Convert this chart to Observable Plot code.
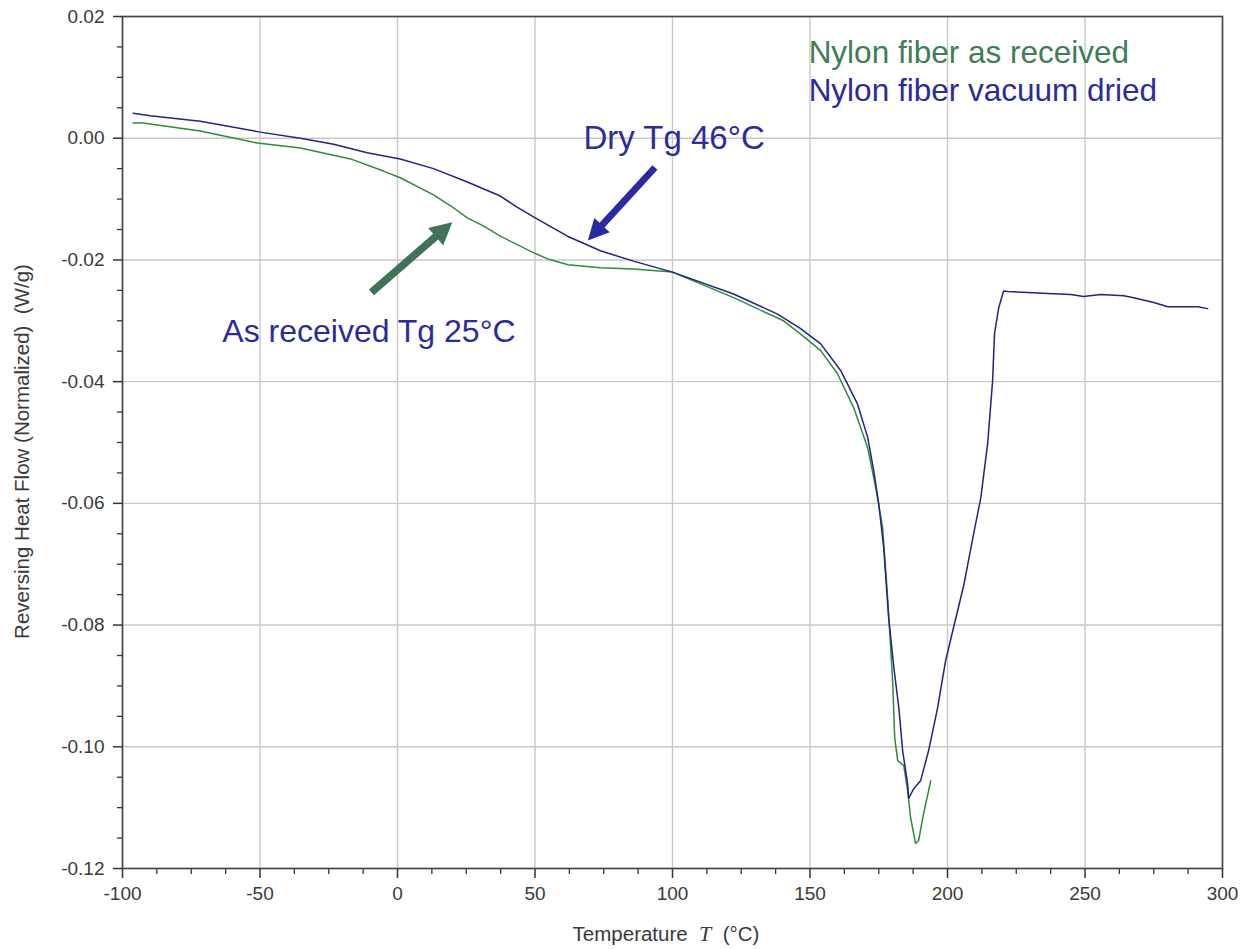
<!DOCTYPE html>
<html>
<head>
<meta charset="utf-8">
<script src="https://cdn.jsdelivr.net/npm/d3@7"></script>
<script src="https://cdn.jsdelivr.net/npm/@observablehq/plot@0.6"></script>
<style>
  body { margin: 0; background: #fff; }
  #chart { width: 1242px; height: 949px; }
</style>
</head>
<body>
<div id="chart"></div>
<script>
// Reversing heat flow (W/g) vs temperature (°C), nylon fibre, MDSC

// Nylon fiber as received
const receivedTemp = [-96.1, -92.5, -71.7, -51.0, -35.3, -17.1, -5.1, 1.0, 13.1, 19.3, 25.4, 31.2, 37.4, 49.4, 55.0, 62.0, 73.8, 85.8, 100.0, 122.2, 140.4, 146.6, 153.9, 160.0, 165.9, 171.0, 173.9, 176.4, 177.5, 178.3, 179.4, 180.1, 180.8, 181.9, 184.1, 185.5, 186.6, 188.4, 189.5, 191.3, 193.9];
const receivedFlow = [0.0025, 0.0025, 0.0012, -0.0008, -0.0016, -0.0034, -0.0054, -0.0065, -0.0093, -0.0111, -0.0131, -0.0144, -0.0161, -0.0188, -0.0199, -0.0208, -0.0213, -0.0215, -0.0220, -0.0262, -0.0300, -0.0322, -0.0349, -0.0387, -0.0443, -0.0509, -0.0574, -0.0640, -0.0708, -0.0760, -0.0842, -0.0896, -0.0985, -0.1023, -0.1031, -0.1072, -0.1117, -0.1159, -0.1154, -0.1110, -0.1056];

// Nylon fiber vacuum dried
const driedTemp = [-96.1, -89.9, -71.7, -49.9, -35.3, -23.2, -11.0, 1.0, 13.1, 25.4, 37.4, 43.0, 50.1, 61.8, 73.8, 85.8, 100.0, 122.2, 138.2, 146.6, 153.9, 161.2, 167.3, 171.0, 173.2, 175.0, 176.8, 178.6, 180.5, 182.3, 183.7, 185.5, 185.9, 187.7, 190.2, 193.1, 196.4, 199.3, 202.2, 205.9, 209.5, 212.1, 214.6, 216.4, 217.1, 218.6, 220.4, 221.9, 231.3, 236.4, 244.8, 249.5, 255.7, 264.1, 267.7, 275.0, 280.1, 282.3, 291.0, 294.6];
const driedFlow = [0.0041, 0.0037, 0.0028, 0.0010, 0.0000, -0.0010, -0.0024, -0.0034, -0.0050, -0.0072, -0.0095, -0.0112, -0.0131, -0.0161, -0.0185, -0.0202, -0.0220, -0.0256, -0.0289, -0.0313, -0.0338, -0.0382, -0.0437, -0.0492, -0.0547, -0.0601, -0.0673, -0.0788, -0.0870, -0.0936, -0.1007, -0.1061, -0.1085, -0.1069, -0.1056, -0.1007, -0.0936, -0.0859, -0.0804, -0.0735, -0.0650, -0.0591, -0.0502, -0.0399, -0.0321, -0.0279, -0.0251, -0.0252, -0.0254, -0.0255, -0.0257, -0.0260, -0.0257, -0.0259, -0.0262, -0.0270, -0.0277, -0.0277, -0.0277, -0.0280];

// Axis ticks
const xTicks = [-100, -50, 0, 50, 100, 150, 200, 250, 300];
const yTicks = [0.02, 0.00, -0.02, -0.04, -0.06, -0.08, -0.10, -0.12];
const xMinorTicks = d3.range(-100, 300.01, 12.5).filter(t => !xTicks.includes(t));
const yMinorTicks = d3.range(-0.12, 0.0201, 0.005).filter(v => !yTicks.some(t => Math.abs(t - v) < 1e-9));

// Series names and annotation text
const seriesNames = ["Nylon fiber as received", "Nylon fiber vacuum dried"];
const tgLabels = ["As received Tg 25°C", "Dry Tg 46°C"];

const GREEN_LINE = "#2f8a3c";
const BLUE_LINE = "#22228a";
const GREEN_TEXT = "#3f7d57";
const BLUE_TEXT = "#2b2b9e";
const GREEN_ARROW = "#3f7458";
const BLUE_ARROW = "#2a2aa2";

const received = receivedTemp.map((t, i) => ({T: t, flow: receivedFlow[i]}));
const dried = driedTemp.map((t, i) => ({T: t, flow: driedFlow[i]}));

// filled block arrow drawn in pixel space from two data-space points
function blockArrow(tail, tip, color, shaftHalf, headHalf, headLen) {
  return (index, scales) => {
    const x0 = scales.x(tail[0]), y0 = scales.y(tail[1]);
    const x1 = scales.x(tip[0]), y1 = scales.y(tip[1]);
    const len = Math.hypot(x1 - x0, y1 - y0);
    const ux = (x1 - x0) / len, uy = (y1 - y0) / len;
    const nx = -uy, ny = ux;
    const bx = x1 - ux * headLen, by = y1 - uy * headLen;
    const pts = [
      [x0 + nx * shaftHalf, y0 + ny * shaftHalf],
      [bx + nx * shaftHalf, by + ny * shaftHalf],
      [bx + nx * headHalf, by + ny * headHalf],
      [x1, y1],
      [bx - nx * headHalf, by - ny * headHalf],
      [bx - nx * shaftHalf, by - ny * shaftHalf],
      [x0 - nx * shaftHalf, y0 - ny * shaftHalf]
    ];
    const poly = d3.create("svg:polygon")
      .attr("points", pts.map(p => p.join(",")).join(" "))
      .attr("fill", color);
    return poly.node();
  };
}

// x axis title with an italic symbol
function xTitle(index, scales, values, dims) {
  const cx = (dims.marginLeft + dims.width - dims.marginRight) / 2 - 6;
  const t = d3.create("svg:text")
    .attr("x", cx)
    .attr("y", dims.height - 8)
    .attr("text-anchor", "middle")
    .attr("fill", "#3a3a3a")
    .attr("font-size", 20.5);
  t.append("tspan").text("Temperature  ");
  t.append("tspan").attr("font-family", "Liberation Serif, Times New Roman, serif").attr("font-style", "italic").attr("font-size", 22).text("T");
  t.append("tspan").text("  (°C)");
  return t.node();
}

const chart = Plot.plot({
  width: 1242,
  height: 949,
  marginLeft: 122,
  marginRight: 20,
  marginTop: 16,
  marginBottom: 81,
  style: {fontFamily: "Liberation Sans, Arial, sans-serif", fontSize: "19px", background: "#fff"},
  x: {domain: [-100, 300]},
  y: {domain: [-0.12, 0.02]},
  marks: [
    Plot.gridX(xTicks, {stroke: "#c9c9c9", strokeOpacity: 1, strokeWidth: 1.4}),
    Plot.gridY(yTicks, {stroke: "#c9c9c9", strokeOpacity: 1, strokeWidth: 1.4}),
    Plot.axisX(xMinorTicks, {tickSize: 6, tickFormat: () => "", stroke: "#333", strokeWidth: 1.3, label: null}),
    Plot.axisX(xTicks, {tickSize: 10, tickPadding: 8, tickFormat: d => String(d), color: "#3a3a3a", stroke: "#333", strokeWidth: 1.5, fontSize: 19, label: null}),
    Plot.axisY(yMinorTicks, {tickSize: 5, tickFormat: () => "", stroke: "#333", strokeWidth: 1.3, label: null}),
    Plot.axisY(yTicks, {tickSize: 9, tickPadding: 9, tickFormat: d => d.toFixed(2), color: "#3a3a3a", stroke: "#333", strokeWidth: 1.5, fontSize: 19, label: null}),
    Plot.frame({stroke: "#444", strokeWidth: 1.6}),
    Plot.line(received, {x: "T", y: "flow", stroke: GREEN_LINE, strokeWidth: 1.5}),
    Plot.line(dried, {x: "T", y: "flow", stroke: BLUE_LINE, strokeWidth: 1.5}),
    blockArrow([-9.3, -0.0254], [20.1, -0.0139], GREEN_ARROW, 3.8, 11.5, 22),
    blockArrow([93.8, -0.0049], [69.4, -0.0169], BLUE_ARROW, 3.4, 10.5, 21),
    Plot.text([{T: 149.5, flow: 0.0140, label: seriesNames[0]}], {x: "T", y: "flow", text: "label", textAnchor: "start", fill: GREEN_TEXT, fontSize: 31.5}),
    Plot.text([{T: 149.5, flow: 0.0078, label: seriesNames[1]}], {x: "T", y: "flow", text: "label", textAnchor: "start", fill: BLUE_TEXT, fontSize: 31.5}),
    Plot.text([{T: 67.6, flow: -0.0001, label: tgLabels[1]}], {x: "T", y: "flow", text: "label", textAnchor: "start", fill: BLUE_TEXT, fontSize: 33}),
    Plot.text([{T: -63.7, flow: -0.0318, label: tgLabels[0]}], {x: "T", y: "flow", text: "label", textAnchor: "start", fill: BLUE_TEXT, fontSize: 32}),
    Plot.text(["Reversing Heat Flow (Normalized)  (W/g)"], {frameAnchor: "left", text: d => d, rotate: -90, dx: -100, dy: 9, textAnchor: "middle", fill: "#3a3a3a", fontSize: 20.5}),
    xTitle
  ]
});

document.getElementById("chart").appendChild(chart);
</script>
</body>
</html>
